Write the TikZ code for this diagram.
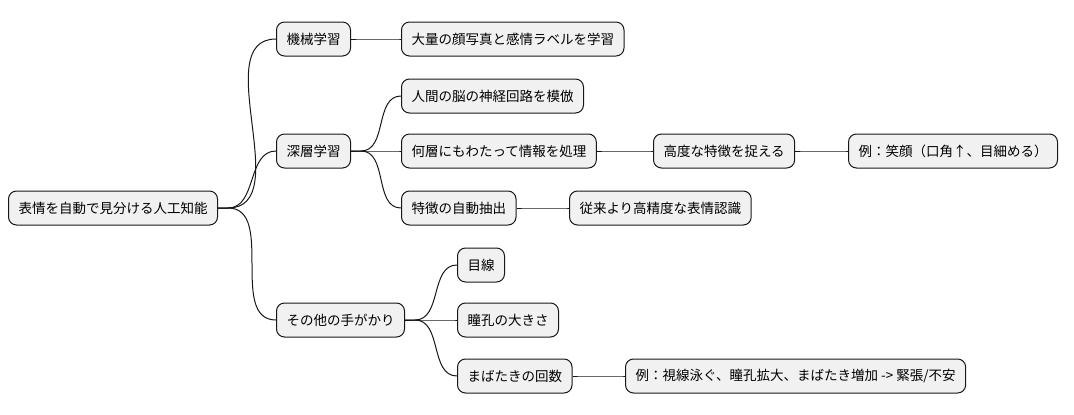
\documentclass[tikz,border=0pt]{standalone}
\usepackage{fontspec}
\setmainfont{Noto Sans CJK JP}
\definecolor{boxfill}{HTML}{F1F1F1}
\definecolor{boxline}{HTML}{181818}
\begin{document}
\begin{tikzpicture}[x=1pt,y=-1pt,
    topic/.style={draw=boxline,fill=boxfill,rounded corners=8pt,line width=1pt,
      minimum height=34pt,inner xsep=10pt,anchor=west,font=\fontsize{13.5}{16}\selectfont},
    link/.style={draw=boxline,line width=1pt}]
  \useasboundingbox (0,0) rectangle (1074,415);
  \path
    (8,208) node[topic] (root){表情を自動で見分ける人工知能}
    (276,39) node[topic] (ml){機械学習}
    (276,151) node[topic] (dl){深層学習}
    (276,320) node[topic] (other){その他の手がかり}
    (401,39) node[topic] (data){大量の顔写真と感情ラベルを学習}
    (401,96) node[topic] (brain){人間の脳の神経回路を模倣}
    (401,151) node[topic] (layer){何層にもわたって情報を処理}
    (653,151) node[topic] (feat){高度な特徴を捉える}
    (848,151) node[topic] (smile){例：笑顔（口角↑、目細める）}
    (401,208) node[topic] (auto){特徴の自動抽出}
    (569,208) node[topic] (acc){従来より高精度な表情認識}
    (457,265) node[topic] (gaze){目線}
    (457,320) node[topic] (pupil){瞳孔の大きさ}
    (457,376) node[topic] (blink){まばたきの回数}
    (625,376) node[topic] (nerv){例：視線泳ぐ、瞳孔拡大、まばたき増加 -> 緊張/不安};
  \begin{scope}[link]
    \foreach \a/\b in {root/ml,root/dl,root/other,ml/data,dl/brain,dl/layer,dl/auto,
        layer/feat,feat/smile,auto/acc,other/gaze,other/pupil,other/blink,blink/nerv}
      \draw (\a.east) -- ++(10,0) to[out=0,in=180] (\b.west);
  \end{scope}
\end{tikzpicture}
\end{document}
